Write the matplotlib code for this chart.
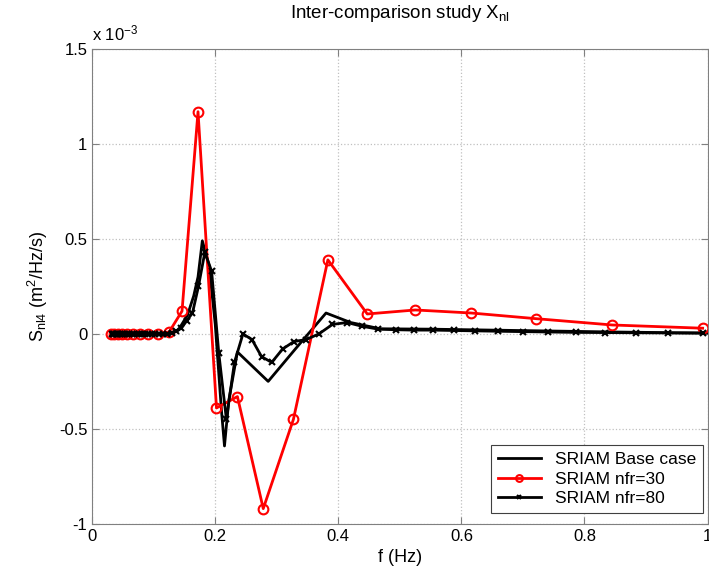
import matplotlib
matplotlib.use("Agg")
import matplotlib.pyplot as plt

plt.rcParams['font.family'] = ['Liberation Sans', 'DejaVu Sans']
plt.rcParams['mathtext.default'] = 'regular'

# frequencies (Hz) and source terms (units of 1e-3 m^2/Hz/s)
f_base = [0.031, 0.06, 0.10, 0.125, 0.14, 0.155, 0.165, 0.172, 0.179, 0.19,
          0.20, 0.21, 0.215, 0.222, 0.236, 0.286, 0.33, 0.38, 0.42, 0.468,
          0.55, 0.65, 0.75, 0.85, 0.95, 1.0]
s_base = [0.0, 0.0, 0.0, 0.003, 0.02, 0.10, 0.20, 0.30, 0.49, 0.36,
          0.05, -0.40, -0.59, -0.35, -0.095, -0.25, -0.08, 0.11, 0.06, 0.027,
          0.025, 0.02, 0.015, 0.01, 0.006, 0.005]

f_30 = [0.031, 0.036, 0.042, 0.049, 0.057, 0.067, 0.078, 0.091, 0.107, 0.125,
        0.146, 0.172, 0.202, 0.236, 0.278, 0.327, 0.383, 0.447, 0.525, 0.616,
        0.722, 0.845, 0.992]
s_30 = [0.0, 0.0, 0.0, 0.0, 0.0, 0.0, 0.0, 0.0, 0.002, 0.01,
        0.12, 1.17, -0.39, -0.33, -0.92, -0.45, 0.39, 0.105, 0.126, 0.11,
        0.08, 0.047, 0.03]

f_80 = [0.0319, 0.0338, 0.0358, 0.0380, 0.0402, 0.0427, 0.0452, 0.0479, 0.0508, 0.0538,
        0.0571, 0.0605, 0.0641, 0.0680, 0.0721, 0.0764, 0.0810, 0.0858, 0.0910, 0.0965,
        0.1022, 0.1084, 0.1149, 0.1218, 0.1291, 0.1368, 0.1450, 0.1537, 0.1630, 0.1727,
        0.1831, 0.1941, 0.2057, 0.2181, 0.2312, 0.2450, 0.2597, 0.2753, 0.2918, 0.3093,
        0.3279, 0.3476, 0.3684, 0.3905, 0.4140, 0.4388, 0.4651, 0.4930, 0.5226, 0.5540,
        0.5872, 0.6224, 0.6598, 0.6993, 0.7413, 0.7858, 0.8329, 0.8829, 0.9358, 0.992]
s_80 = [0.0, 0.0, 0.0, 0.0, 0.0, 0.0, 0.0, 0.0, 0.0, 0.0,
        0.0, 0.0, 0.0, 0.0, 0.0, 0.0, 0.0, 0.0, 0.0, 0.0,
        0.0, 0.0, 0.0, 0.002, 0.005, 0.015, 0.03, 0.07, 0.11, 0.25,
        0.43, 0.33, -0.10, -0.45, -0.15, 0.0, -0.03, -0.12, -0.15, -0.08,
        -0.04, -0.03, 0.0, 0.05, 0.06, 0.04, 0.025, 0.022, 0.02, 0.02,
        0.018, 0.016, 0.014, 0.012, 0.01, 0.008, 0.007, 0.006, 0.005, 0.004]

fig = plt.figure(figsize=(7.09, 5.70), dpi=100)
ax = fig.add_axes([0.130, 0.081, 0.868, 0.833])

ax.plot(f_base, s_base, color='black', lw=2, label='SRIAM Base case')
ax.plot(f_30, s_30, color='red', lw=2, marker='o', ms=7, mfc='none',
        mew=1.5, label='SRIAM nfr=30')
ax.plot(f_80, s_80, color='black', lw=2, marker='x', ms=4.5, mew=1.5,
        label='SRIAM nfr=80')

ax.set_xlim(0, 1)
ax.set_ylim(-1, 1.5)
ax.set_xticks([0, 0.2, 0.4, 0.6, 0.8, 1])
ax.set_xticklabels(['0', '0.2', '0.4', '0.6', '0.8', '1'])
ax.set_yticks([-1, -0.5, 0, 0.5, 1, 1.5])
ax.set_yticklabels(['-1', '-0.5', '0', '0.5', '1', '1.5'])
ax.grid(True, ls=':', color='#c0c0c0', lw=0.9)
ax.tick_params(direction='in', top=True, right=True, labelsize=12,
               color='#808080', length=5)
for sp in ax.spines.values():
    sp.set_color('#808080')

ax.set_xlabel('f (Hz)', fontsize=13)
ax.set_ylabel(r'S$_{nl4}$ (m$^2$/Hz/s)', fontsize=13, labelpad=6)
ax.set_title(r'Inter-comparison study X$_{nl}$', fontsize=13.5, pad=22)
ax.text(0.0, 1.012, r'x 10$^{-3}$', transform=ax.transAxes, fontsize=12,
        va='bottom', ha='left')

leg = ax.legend(loc='lower right', bbox_to_anchor=(0.993, 0.022),
                fontsize=12.5, fancybox=False, framealpha=1,
                edgecolor='#404040', handlelength=2.5, borderaxespad=0,
                labelspacing=0.25, markerscale=0.7)
leg.get_frame().set_linewidth(0.8)

fig.savefig('out.png', dpi=100)
